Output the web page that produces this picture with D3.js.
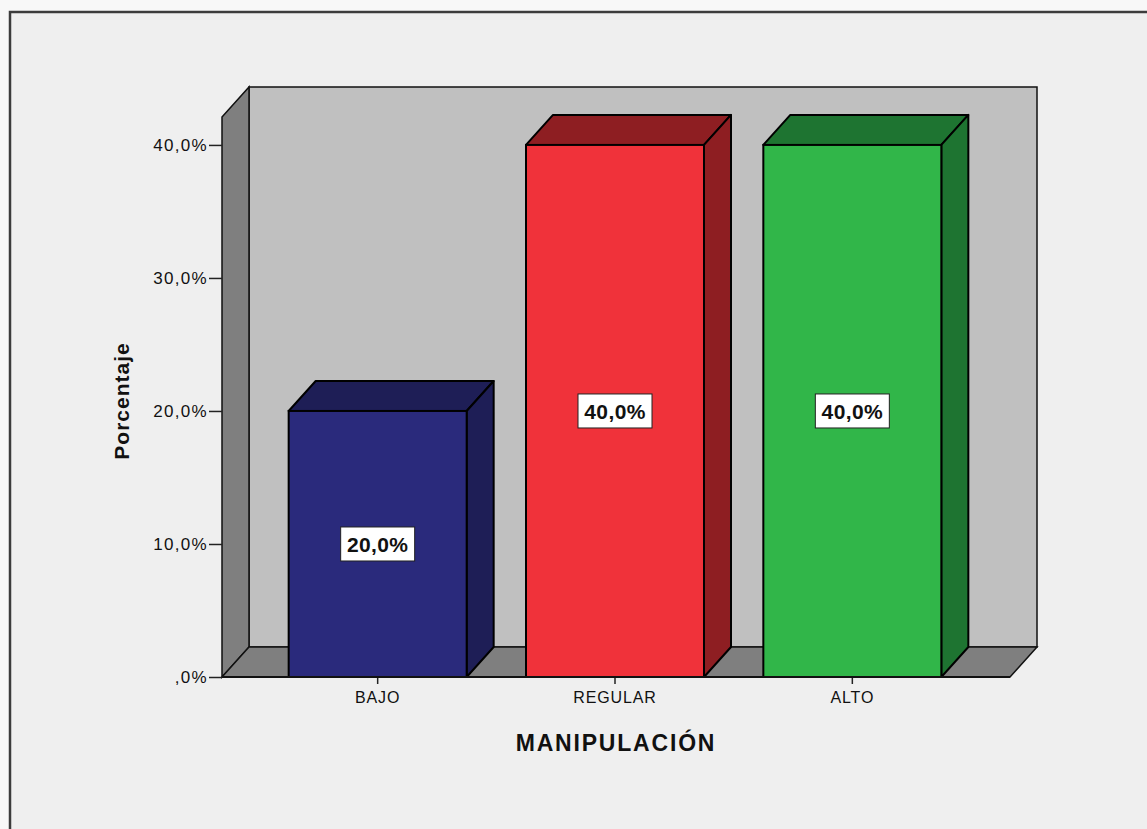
<!DOCTYPE html>
<html>
<head>
<meta charset="utf-8">
<script src="https://cdn.jsdelivr.net/npm/d3@7"></script>
<style>
  html, body { margin: 0; padding: 0; background: #f8f8f8; }
  svg { display: block; }
  text { font-family: "Liberation Sans", Arial, sans-serif; fill: #111; }
</style>
</head>
<body>
<svg id="chart" width="1147" height="829"></svg>
<script>
// Data
const categories = ["BAJO", "REGULAR", "ALTO"];
const values = [0.20, 0.40, 0.40];
const valueLabels = ["20,0%", "40,0%", "40,0%"];
const yTicks = [0, 0.1, 0.2, 0.3, 0.4];
const yTickLabels = [",0%", "10,0%", "20,0%", "30,0%", "40,0%"];
const frontColors = ["#2a2a7c", "#f0323a", "#31b649"];
const sideColors = ["#1e1e56", "#8e1e22", "#1e7431"];

const svg = d3.select("#chart");

// Layout
const plotLeft = 222, plotRight = 1010;   // front plane extent
const depthX = 27, depthY = 30;           // 3D offset to back plane
const y = d3.scaleLinear().domain([0, 0.421]).range([677, 117]);
const x = d3.scaleBand().domain(categories).range([259, 971])
  .paddingInner(0.25).paddingOuter(0.125);

// Outer frame
svg.append("rect").attr("x", 10).attr("y", 12).attr("width", 1160).attr("height", 840)
  .attr("fill", "#efefef").attr("stroke", "#3c3c3c").attr("stroke-width", 2.5);

const y0 = y(0), yTop = y.range()[1];
const pts = a => a.map(p => p.join(",")).join(" ");

// Back wall
svg.append("polygon")
  .attr("points", pts([[plotLeft + depthX, yTop - depthY], [plotRight + depthX, yTop - depthY],
                       [plotRight + depthX, y0 - depthY], [plotLeft + depthX, y0 - depthY]]))
  .attr("fill", "#c0c0c0").attr("stroke", "#111").attr("stroke-width", 1.5);
// Left wall
svg.append("polygon")
  .attr("points", pts([[plotLeft, yTop], [plotLeft + depthX, yTop - depthY],
                       [plotLeft + depthX, y0 - depthY], [plotLeft, y0]]))
  .attr("fill", "#7f7f7f").attr("stroke", "#111").attr("stroke-width", 1.5);
// Floor
svg.append("polygon")
  .attr("points", pts([[plotLeft, y0], [plotLeft + depthX, y0 - depthY],
                       [plotRight + depthX, y0 - depthY], [plotRight, y0]]))
  .attr("fill", "#7f7f7f").attr("stroke", "#111").attr("stroke-width", 1.5);

// Y axis
const yAxis = d3.axisLeft(y).tickValues(yTicks).tickSize(13).tickPadding(1)
  .tickFormat((d, i) => yTickLabels[i]);
const gy = svg.append("g").attr("transform", `translate(${plotLeft},0)`).call(yAxis);
gy.select(".domain").remove();
gy.selectAll(".tick line").attr("stroke", "#222").attr("stroke-width", 1.5);
gy.selectAll(".tick text").attr("font-size", 17).attr("letter-spacing", 1.3)
  .attr("font-family", "Liberation Sans, Arial, sans-serif").attr("fill", "#111");

// X axis
const xAxis = d3.axisBottom(x).tickSize(7).tickPadding(8);
const gx = svg.append("g").attr("transform", `translate(0,${y0})`).call(xAxis);
gx.select(".domain").remove();
gx.selectAll(".tick line").attr("stroke", "#222").attr("stroke-width", 1.5);
gx.selectAll(".tick text").attr("font-size", 16).attr("letter-spacing", 0.9)
  .attr("font-family", "Liberation Sans, Arial, sans-serif").attr("fill", "#111");

// Bars
const bars = svg.append("g").selectAll("g").data(categories).join("g");
bars.each(function (c, i) {
  const g = d3.select(this);
  const x0 = x(c), x1 = x(c) + x.bandwidth();
  const yv = y(values[i]);
  // top face
  g.append("polygon")
    .attr("points", pts([[x0, yv], [x0 + depthX, yv - depthY], [x1 + depthX, yv - depthY], [x1, yv]]))
    .attr("fill", sideColors[i]).attr("stroke", "#000").attr("stroke-width", 2).attr("stroke-linejoin", "round");
  // right face
  g.append("polygon")
    .attr("points", pts([[x1, yv], [x1 + depthX, yv - depthY], [x1 + depthX, y0 - depthY], [x1, y0]]))
    .attr("fill", sideColors[i]).attr("stroke", "#000").attr("stroke-width", 2).attr("stroke-linejoin", "round");
  // front face
  g.append("rect").attr("x", x0).attr("y", yv).attr("width", x1 - x0).attr("height", y0 - yv)
    .attr("fill", frontColors[i]).attr("stroke", "#000").attr("stroke-width", 2);
});

// Front floor edge / x baseline
svg.append("line").attr("x1", plotLeft).attr("x2", plotRight).attr("y1", y0).attr("y2", y0)
  .attr("stroke", "#111").attr("stroke-width", 2);

// Value labels
const lbl = svg.append("g").selectAll("g").data(categories).join("g")
  .attr("transform", (c, i) => `translate(${x(c) + x.bandwidth() / 2},${y(values[i] / 2)})`);
lbl.append("rect").attr("x", -37).attr("y", -17).attr("width", 74).attr("height", 34)
  .attr("fill", "#fff").attr("stroke", "#222").attr("stroke-width", 1);
lbl.append("text").attr("text-anchor", "middle").attr("dy", "0.37em")
  .attr("font-size", 21).attr("font-weight", "bold").attr("letter-spacing", 0.4)
  .text((c, i) => valueLabels[i]);

// Axis titles
svg.append("text").attr("x", 616).attr("y", 751).attr("text-anchor", "middle")
  .attr("font-size", 23).attr("font-weight", "bold").attr("letter-spacing", 1.8)
  .text("MANIPULACIÓN");
svg.append("text").attr("transform", "translate(129,401) rotate(-90)").attr("text-anchor", "middle")
  .attr("font-size", 21).attr("font-weight", "bold").attr("letter-spacing", 1)
  .text("Porcentaje");
</script>
</body>
</html>
